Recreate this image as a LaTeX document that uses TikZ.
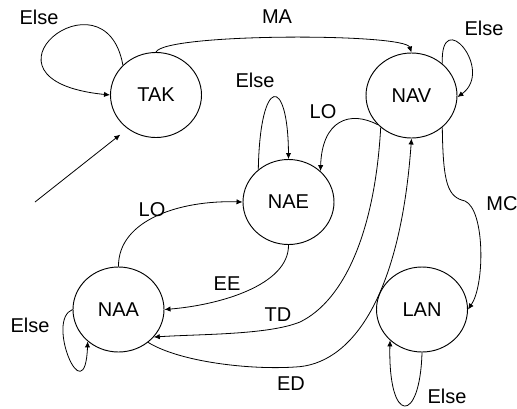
\documentclass[tikz,border=0pt]{standalone}
\usepackage{fontspec}
\setmainfont{Liberation Sans}
\usetikzlibrary{arrows.meta,shapes.geometric}
\definecolor{FSMInk}{HTML}{000000}
\definecolor{FSMPaper}{HTML}{FFFFFF}

\begin{document}
\begin{tikzpicture}[x=0.75pt,y=-0.75pt,
  state/.style={draw=FSMInk,line width=0.7pt,ellipse,minimum width=68.25pt,minimum height=63.75pt,inner sep=0pt,font=\fontsize{15}{18}\selectfont},
  lbl/.style={text=FSMInk,inner sep=0pt,font=\fontsize{15}{18}\selectfont},
  trans/.style={draw=FSMInk,line width=0.6pt,-{Latex[length=4.5pt,width=4pt]}}]
\path[use as bounding box,fill=FSMPaper] (0,0) rectangle (517,408);
\node[state] (TAK) at (156,95) {TAK};
\node[state] (NAV) at (411.5,95.5) {NAV};
\node[state] (NAE) at (288.5,202) {NAE};
\node[state] (NAA) at (118.5,309.5) {NAA};
\node[state] (LAN) at (422,309.5) {LAN};
\coordinate (init) at (35,202);
\draw[trans,shorten >=7pt] (init) -- (TAK.230);
\draw[trans] (TAK.138) .. controls (105,-35) and (-40,80) .. (TAK.180);
\draw[trans] (TAK.90) .. controls (165,33) and (405,33) .. (NAV.90);
\draw[trans] (NAV.46) .. controls (440,5) and (495,70) .. (NAV.-2);
\draw[trans] (NAV.221) .. controls (350,110) and (322,120) .. (NAE.44);
\draw[trans] (NAE.133) .. controls (260,75) and (288,75) .. (NAE.90);
\draw[trans] (NAA.90) .. controls (118,220) and (180,200) .. (NAE.180);
\draw[trans] (NAE.270) .. controls (289,285) and (220,305) .. (NAA.0);
\draw[trans] (NAV.226) .. controls (375,230) and (345,300) .. (300,322) .. controls (268,335) and (200,334) .. (NAA.322);
\draw[trans] (NAA.312) .. controls (180,362) and (250,370) .. (295,367) .. controls (350,365) and (400,300) .. (NAV.270);
\draw[trans] (NAV.314) .. controls (443,185) and (448,197) .. (465,201) .. controls (485,210) and (485,285) .. (LAN.0);
\draw[trans] (LAN.270) .. controls (420,425) and (388,425) .. (LAN.224);
\draw[trans] (NAA.180) .. controls (45,320) and (85,415) .. (NAA.226);
\node[lbl] (elseTAK) at (39,17) {Else};
\node[lbl] (ma) at (277,16.5) {MA};
\node[lbl] (elseNAV) at (484,28) {Else};
\node[lbl] (loNAV) at (323,112) {LO};
\node[lbl] (elseNAE) at (255,80) {Else};
\node[lbl] (loNAA) at (152,210) {LO};
\node[lbl] (ee) at (227,284) {EE};
\node[lbl] (td) at (278,315) {TD};
\node[lbl] (ed) at (291,384) {ED};
\node[lbl] (mc) at (502,204) {MC};
\node[lbl] (elseLAN) at (447,396) {Else};
\node[lbl] (elseNAA) at (30,325) {Else};
\end{tikzpicture}
\end{document}
